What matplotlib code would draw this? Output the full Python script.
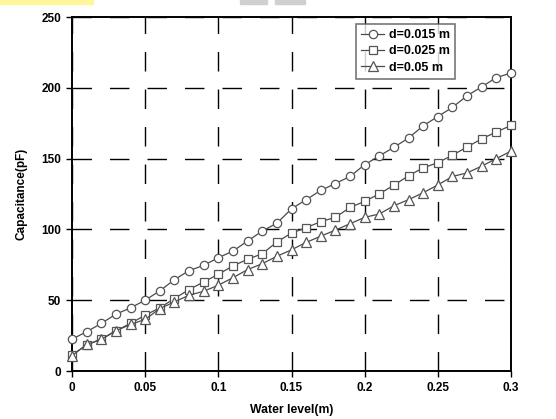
#!/usr/bin/env python3
"""Capacitance versus water level for three electrode spacings."""

import matplotlib
matplotlib.use("Agg")
import matplotlib.pyplot as plt
from matplotlib.patches import Rectangle

WATER_LEVEL = [round(0.01 * i, 2) for i in range(31)]

CAP_D015 = [22.5, 27.7, 33.6, 40.1, 44.6, 50.0, 56.6, 64.5, 70.9, 74.6,
            80.0, 84.7, 91.8, 98.8, 104.4, 114.5, 121.0, 127.5, 132.4, 137.4,
            145.7, 151.9, 158.0, 164.5, 173.2, 179.7, 186.2, 194.4, 200.7, 207.2,
            210.4]
CAP_D025 = [11.3, 18.3, 22.5, 28.4, 33.6, 39.4, 44.6, 51.2, 57.5, 62.9,
            68.3, 74.2, 78.9, 82.8, 91.1, 97.4, 101.2, 105.5, 108.5, 115.5,
            119.8, 125.1, 131.2, 137.9, 143.5, 147.1, 152.4, 158.2, 164.0, 168.8,
            173.4]
CAP_D05 = [10.8, 18.8, 22.3, 28.4, 32.9, 36.4, 44.1, 48.8, 53.5, 56.3,
           60.6, 65.9, 71.6, 75.8, 81.0, 85.6, 90.8, 95.2, 99.5, 104.0,
           108.5, 110.9, 116.7, 121.0, 125.9, 131.4, 137.4, 139.9, 144.7, 150.0,
           155.3]

SERIES = [
    ("d=0.015 m", CAP_D015, "o"),
    ("d=0.025 m", CAP_D025, "s"),
    ("d=0.05 m", CAP_D05, "^"),
]

plt.rcParams["font.family"] = ["Liberation Sans", "DejaVu Sans"]
plt.rcParams["font.weight"] = "bold"

fig = plt.figure(figsize=(5.56, 4.19), dpi=100)
ax = fig.add_axes([72 / 556, 1 - 371 / 419, 439 / 556, 354 / 419])

# scan artefacts along the top edge
fig.patches.append(Rectangle((0, 1 - 4 / 419), 93 / 556, 4 / 419,
                             transform=fig.transFigure, color="#fff59a", zorder=0))
fig.patches.append(Rectangle((240 / 556, 1 - 4 / 419), 27 / 556, 4 / 419,
                             transform=fig.transFigure, color="#d0d0d0", zorder=0))
fig.patches.append(Rectangle((275 / 556, 1 - 4 / 419), 30 / 556, 4 / 419,
                             transform=fig.transFigure, color="#d0d0d0", zorder=0))

for label, values, marker in SERIES:
    ax.plot(WATER_LEVEL, values, marker=marker, color="#4a4a4a", linewidth=0.9,
            markersize=6 if marker != "^" else 6.5, markerfacecolor="white",
            markeredgecolor="#555555", markeredgewidth=0.9, label=label,
            clip_on=False, zorder=3)

ax.set_xlim(0, 0.3)
ax.set_ylim(0, 250)
ax.set_xticks([0, 0.05, 0.1, 0.15, 0.2, 0.25, 0.3],
              ["0", "0.05", "0.1", "0.15", "0.2", "0.25", "0.3"])
ax.set_yticks([0, 50, 100, 150, 200, 250])
ax.tick_params(labelsize=8.5, length=4, width=1, direction="out", pad=4)
for lbl in ax.get_xticklabels() + ax.get_yticklabels():
    lbl.set_fontweight("bold")

ax.grid(True, color="black", linewidth=1.0, linestyle=(0, (14, 13)))
ax.set_axisbelow(True)
for spine in ax.spines.values():
    spine.set_linewidth(1.4)

ax.set_xlabel("Water level(m)", fontsize=8.8, fontweight="bold", labelpad=7)
ax.set_ylabel("Capacitance(pF)", fontsize=8.5, fontweight="bold", labelpad=10)

leg = ax.legend(loc="upper right", bbox_to_anchor=(0.872, 0.98), fontsize=9,
                frameon=True, fancybox=False, edgecolor="#555555",
                handlelength=1.8, handletextpad=0.4, borderpad=0.4,
                labelspacing=0.35, borderaxespad=0)
leg.get_frame().set_linewidth(1.2)
for text in leg.get_texts():
    text.set_fontweight("bold")

fig.savefig("out.png", dpi=100)
